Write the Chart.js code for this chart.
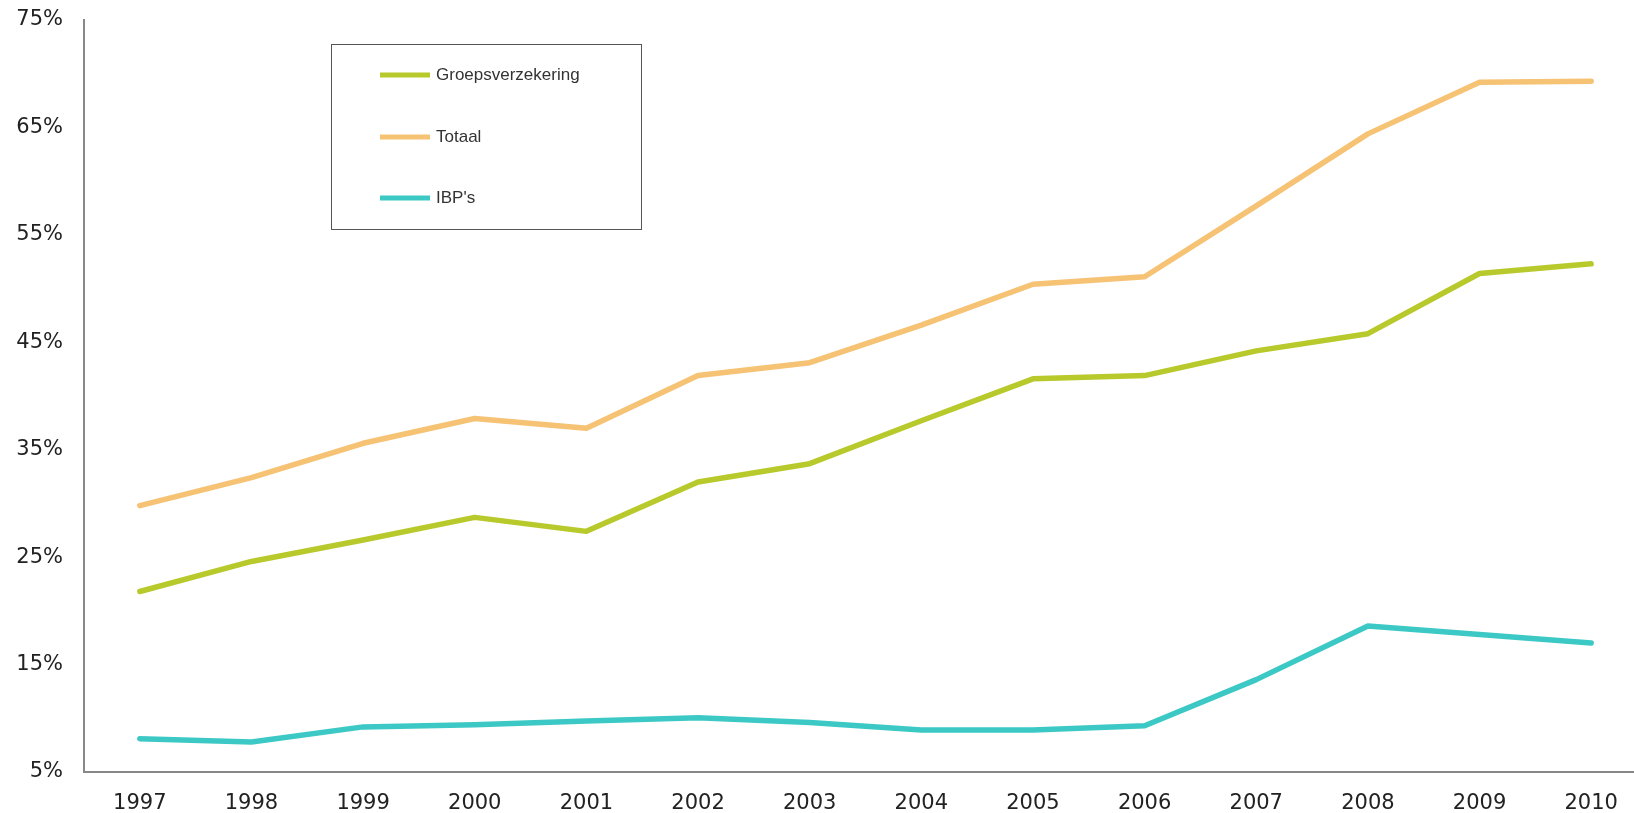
<!DOCTYPE html>
<html>
<head>
<meta charset="utf-8">
<script src="https://cdn.jsdelivr.net/npm/chart.js@4/dist/chart.umd.min.js"></script>
<style>
  html, body { margin: 0; padding: 0; background: #fff; overflow: hidden; }
  #wrap { width: 1650px; height: 813px; }
</style>
</head>
<body>
<div id="wrap"><canvas id="myChart" width="1650" height="813"></canvas></div>
<script>
const years = ["1997", "1998", "1999", "2000", "2001", "2002", "2003", "2004", "2005", "2006", "2007", "2008", "2009", "2010"];
const groepsverzekering = [21.8, 24.6, 26.6, 28.7, 27.4, 32.0, 33.7, 37.7, 41.6, 41.9, 44.2, 45.8, 51.4, 52.3];
const totaal = [29.8, 32.4, 35.6, 37.9, 37.0, 41.9, 43.1, 46.6, 50.4, 51.1, 57.7, 64.4, 69.2, 69.3];
const ibps = [8.1, 7.8, 9.2, 9.4, 9.75, 10.05, 9.6, 8.9, 8.9, 9.3, 13.6, 18.6, 17.8, 17.0];
const yTicks = [5, 15, 25, 35, 45, 55, 65, 75];

// legend in a framed box inside the plot
const boxLegend = {
    id: "boxLegend",
    afterDraw(chart) {
        const ctx = chart.ctx;
        ctx.save();
        ctx.strokeStyle = "#555";
        ctx.lineWidth = 1;
        ctx.strokeRect(331.5, 44.5, 310, 185);
        const rows = [75, 137, 198];
        chart.data.datasets.forEach((ds, i) => {
            ctx.strokeStyle = ds.borderColor;
            ctx.lineWidth = 5;
            ctx.beginPath();
            ctx.moveTo(380, rows[i]);
            ctx.lineTo(430, rows[i]);
            ctx.stroke();
            ctx.fillStyle = "#333";
            ctx.font = "17px 'Liberation Sans', Arial, sans-serif";
            ctx.textBaseline = "middle";
            ctx.fillText(ds.label, 436, rows[i]);
        });
        ctx.restore();
    },
};

const ctx = document.getElementById("myChart").getContext("2d");
const myChart = new Chart(ctx, {
    type: "line",
    data: {
        labels: years,
        datasets: [{
            label: "Groepsverzekering",
            data: groepsverzekering,
            borderColor: "#b8c92c",
        }, {
            label: "Totaal",
            data: totaal,
            borderColor: "#f6c274",
        }, {
            label: "IBP's",
            data: ibps,
            borderColor: "#3cc9c6",
        }, ],
    },
    options: {
        responsive: false,
        animation: false,
        layout: { padding: { top: 20, left: 0, right: 3, bottom: 0 } },
        elements: {
            line: { borderWidth: 5.5, tension: 0, borderCapStyle: "round", borderJoinStyle: "round" },
            point: { radius: 0 },
        },
        plugins: { legend: { display: false }, tooltip: { enabled: false } },
        scales: {
            x: {
                offset: true,
                grid: { display: false, drawTicks: false },
                border: { color: "#888", width: 2 },
                ticks: {
                    color: "#222",
                    padding: 19,
                    maxRotation: 0,
                    font: { family: "'DejaVu Sans', Verdana, sans-serif", size: 21 },
                },
                afterFit: (scale) => { scale.height = 41; },
            },
            y: {
                min: 5,
                max: 75,
                grid: { display: false, drawTicks: false },
                border: { color: "#888", width: 2 },
                afterBuildTicks: (scale) => { scale.ticks = yTicks.map((v) => ({ value: v })); },
                ticks: {
                    color: "#222",
                    padding: 21,
                    font: { family: "'DejaVu Sans', Verdana, sans-serif", size: 21 },
                    callback: (v) => v + "%",
                },
                afterFit: (scale) => {
                    scale.width = 84;
                    // top label may overhang the canvas edge area
                    scale.paddingTop = 0;
                    scale.paddingBottom = 0;
                },
            },
        },
    },
    plugins: [boxLegend],
});
</script>
</body>
</html>
